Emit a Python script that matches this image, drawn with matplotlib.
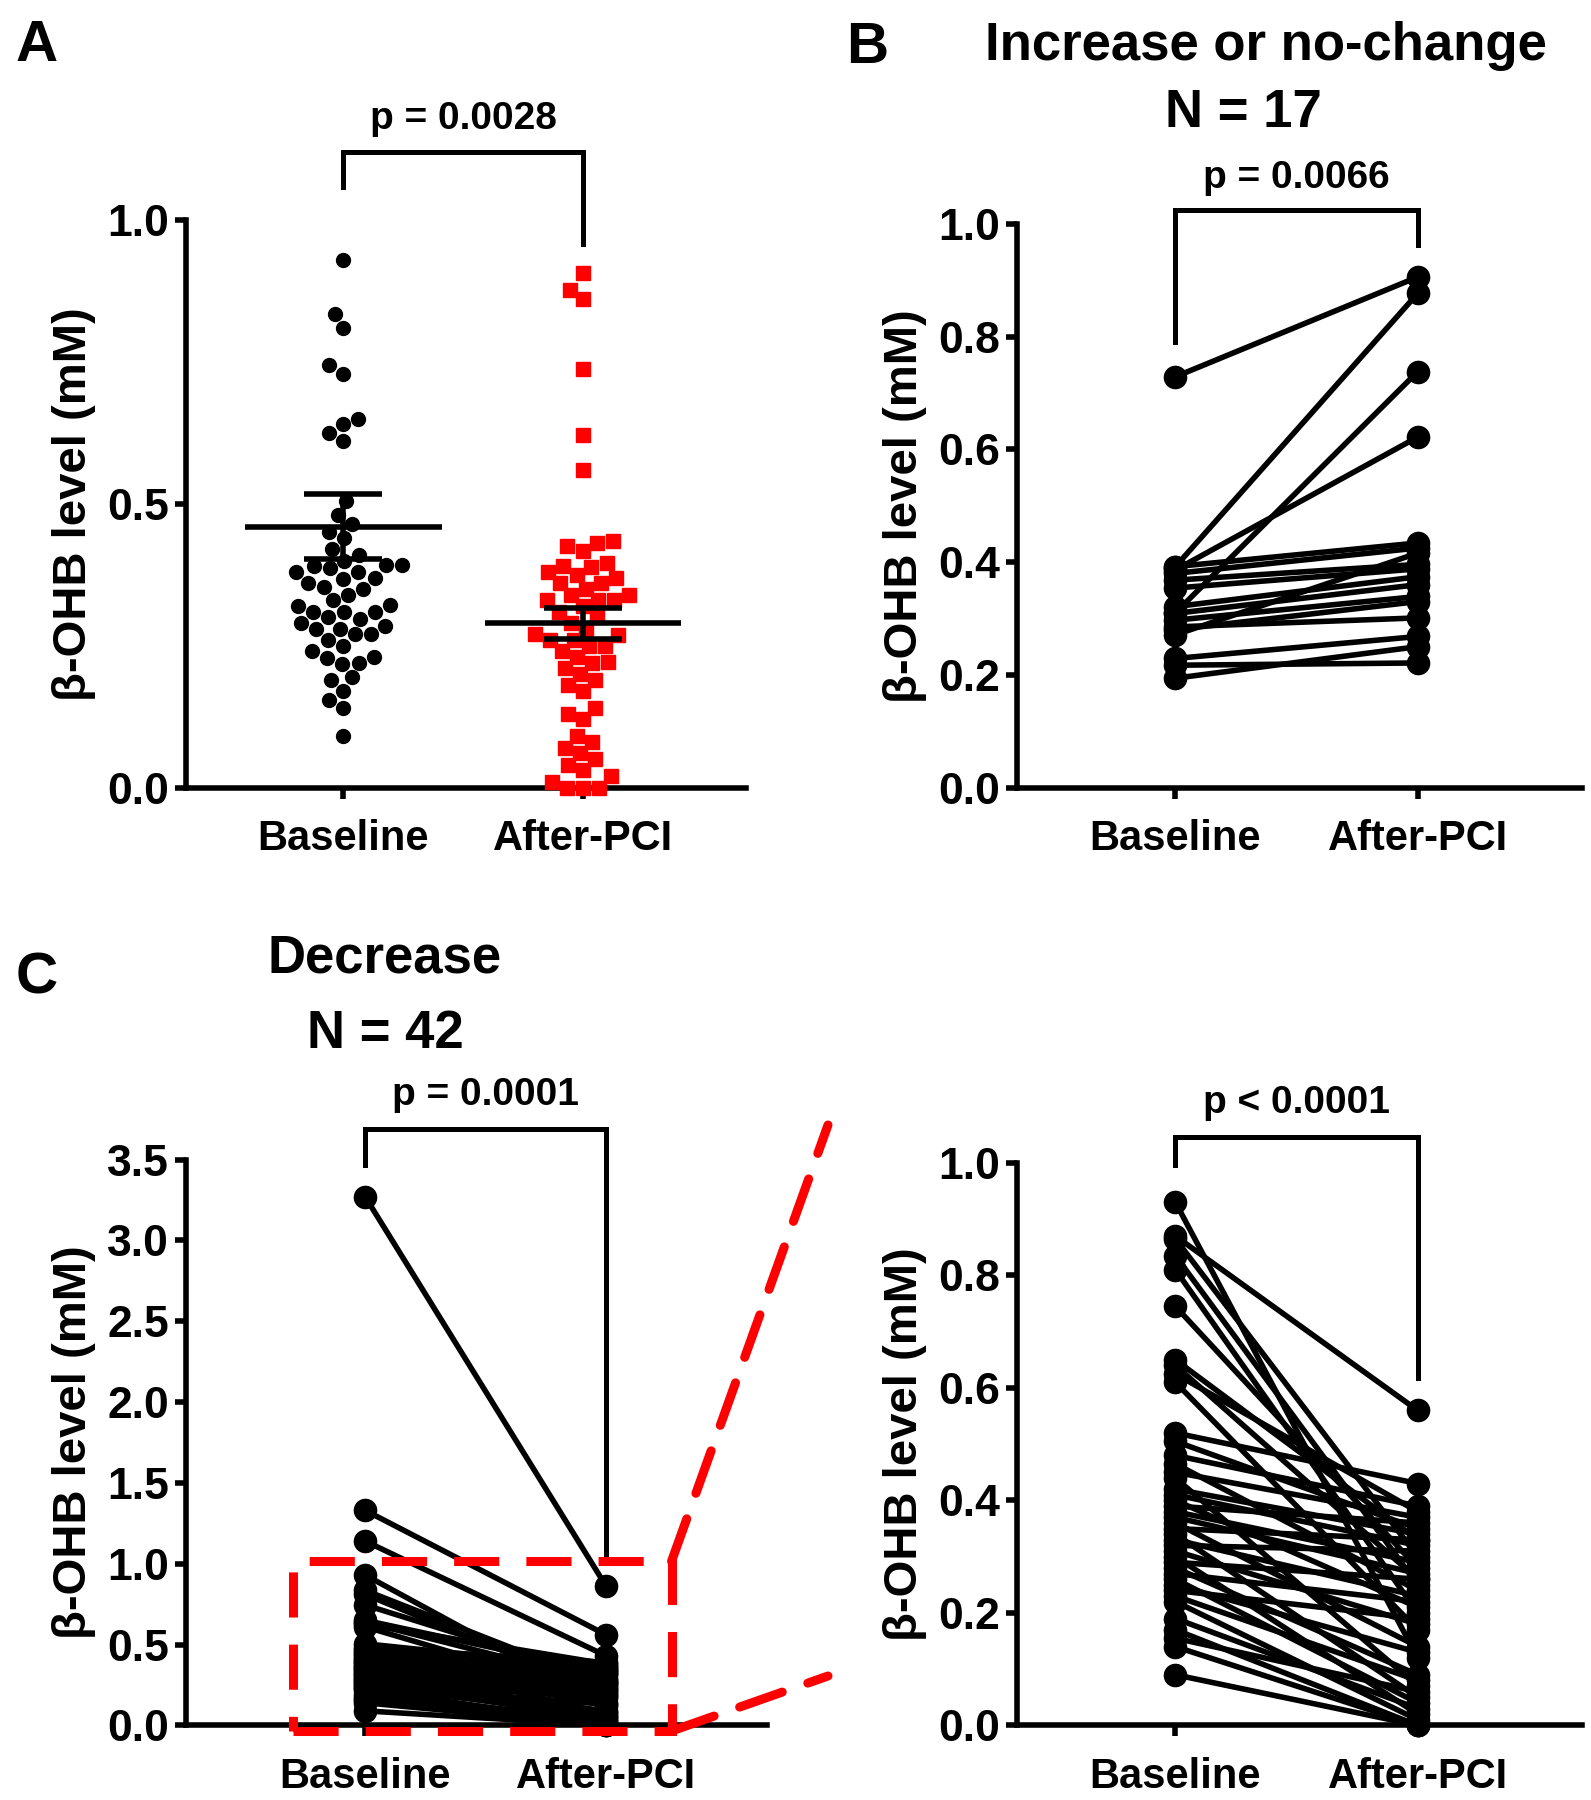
import numpy as np
import matplotlib
matplotlib.use("Agg")
import matplotlib.pyplot as plt
from matplotlib.patches import Rectangle, ConnectionPatch

plt.rcParams['font.family'] = ['Liberation Sans', 'DejaVu Sans']
plt.rcParams['font.weight'] = 'bold'

groups = ["Baseline", "After-PCI"]

# Increase or no-change group (N = 17), paired values in mM
inc_baseline = [0.729, 0.392, 0.310, 0.386, 0.392, 0.380, 0.368, 0.354, 0.321,
                0.309, 0.297, 0.285, 0.271, 0.229, 0.217, 0.194, 0.280]
inc_after = [0.906, 0.877, 0.738, 0.622, 0.434, 0.425, 0.396, 0.388, 0.374,
             0.360, 0.339, 0.301, 0.416, 0.268, 0.221, 0.250, 0.330]

# Decrease group (N = 42), paired values in mM
dec_baseline = [3.27, 1.33, 1.14, 0.93, 0.835, 0.81, 0.745, 0.65, 0.64, 0.625,
                0.61, 0.505, 0.48, 0.465, 0.45, 0.44, 0.42, 0.41, 0.40, 0.39,
                0.38, 0.37, 0.36, 0.35, 0.34, 0.33, 0.32, 0.31, 0.30, 0.29,
                0.28, 0.27, 0.26, 0.25, 0.24, 0.23, 0.22, 0.19, 0.17, 0.155,
                0.14, 0.09]
dec_after = [0.86, 0.56, 0.43, 0.12, 0.25, 0.20, 0.28, 0.33, 0.26, 0.38,
             0.17, 0.35, 0.39, 0.24, 0.37, 0.07, 0.34, 0.32, 0.21, 0.36,
             0.29, 0.27, 0.14, 0.33, 0.05, 0.23, 0.31, 0.18, 0.02, 0.26,
             0.09, 0.22, 0.04, 0.13, 0.19, 0.08, 0.01, 0.03, 0.0, 0.06,
             0.0, 0.0]

# Decrease group, zoomed 0-1 mM view
zoom_baseline = [0.93, 0.87, 0.865, 0.835, 0.81, 0.745, 0.65, 0.64, 0.625, 0.61,
                 0.52, 0.505, 0.48, 0.465, 0.45, 0.44, 0.42, 0.41, 0.40, 0.39,
                 0.38, 0.37, 0.36, 0.35, 0.34, 0.33, 0.32, 0.31, 0.30, 0.29,
                 0.28, 0.27, 0.26, 0.25, 0.24, 0.23, 0.22, 0.19, 0.17, 0.155,
                 0.14, 0.09]
zoom_after = [0.12, 0.56, 0.30, 0.25, 0.20, 0.28, 0.33, 0.26, 0.38, 0.17,
              0.43, 0.35, 0.39, 0.24, 0.37, 0.07, 0.34, 0.32, 0.21, 0.36,
              0.29, 0.27, 0.14, 0.33, 0.05, 0.23, 0.31, 0.18, 0.02, 0.26,
              0.09, 0.22, 0.04, 0.13, 0.19, 0.08, 0.01, 0.03, 0.0, 0.06,
              0.0, 0.0]

# Panel A pools both groups
all_baseline = inc_baseline + dec_baseline
all_after = inc_after + dec_after

W, H = 1591, 1800
fig = plt.figure(figsize=(W / 100, H / 100), dpi=100)

LW = 4.0
PAIR_LW = 4.0
PAIR_MS = 16
XTICK_FS = 30
YTICK_FS = 32
LABEL_FS = 34
P_FS = 28
TITLE_FS = 38


def px_rect(left, top, right, bottom):
    return [left / W, 1 - bottom / H, (right - left) / W, (bottom - top) / H]


def style_axes(ax, xlim, ylim, yticks, fmt="%.1f"):
    ax.set_xlim(*xlim)
    ax.set_ylim(*ylim)
    for s in ("top", "right"):
        ax.spines[s].set_visible(False)
    for s in ("left", "bottom"):
        ax.spines[s].set_linewidth(LW)
    ax.set_xticks([0, 1])
    ax.set_xticklabels(groups)
    ax.set_yticks(yticks)
    ax.set_yticklabels([fmt % t for t in yticks])
    ax.tick_params(axis="both", length=8, width=LW)
    ax.tick_params(axis="x", pad=15, labelsize=XTICK_FS)
    ax.tick_params(axis="y", pad=4, labelsize=YTICK_FS)
    ax.set_ylabel("β-OHB level (mM)", fontsize=LABEL_FS, fontweight="bold", labelpad=8)


def bracket(ax, y_top, y_left, y_right, text, text_y):
    ax.plot([0, 0, 1, 1], [y_left, y_top, y_top, y_right], color="black",
            lw=3.6, clip_on=False, solid_joinstyle="miter")
    ax.text(0.5, text_y, text, ha="center", va="center", fontsize=P_FS,
            fontweight="bold", clip_on=False)


def swarm(values, x0, xscale, yscale, d):
    # place points bottom-up, nudging sideways until they no longer overlap
    values = np.asarray(values)
    xs = np.zeros(len(values))
    placed = []
    for i in np.argsort(values):
        y = values[i] * yscale
        off = None
        for step in range(0, 400):
            for sgn in ((1,) if step == 0 else (-1, 1)):
                x = sgn * step
                if all((x - px) ** 2 + (y - py) ** 2 >= d * d for px, py in placed):
                    off = x
                    break
            if off is not None:
                break
        placed.append((off, y))
        xs[i] = x0 + off / xscale
    return xs


# ---------------- Panel A: pooled scatter with mean +/- SEM ----------------
axA = fig.add_axes(px_rect(186, 220, 746, 787.5))
xlimA = (-0.655, 1.679)
style_axes(axA, xlimA, (0, 1.0), [0.0, 0.5, 1.0])

xscale = (746 - 186) / (xlimA[1] - xlimA[0])
yscale = 787.5 - 220
for xpos, vals, marker, color, ms in ((0, all_baseline, "o", "black", 10),
                                       (1, all_after, "s", "red", 9.5)):
    v = np.array(vals)
    vis = v[v <= 1.0]
    xs = swarm(vis, xpos, xscale, yscale, 16)
    axA.plot(xs, vis, linestyle="", marker=marker, color=color, ms=ms,
             mec=color, clip_on=False, zorder=3)
    m = v.mean()
    sem = v.std(ddof=1) / np.sqrt(len(v))
    axA.hlines(m, xpos - 0.41, xpos + 0.41, color="black", lw=LW, zorder=4)
    axA.vlines(xpos, m - sem, m + sem, color="black", lw=LW, zorder=4)
    axA.hlines([m - sem, m + sem], xpos - 0.163, xpos + 0.163, color="black", lw=LW, zorder=4)

bracket(axA, 1.119, 1.059, 0.957, "p = 0.0028", 1.178)

# ---------------- Panel B: increase or no-change ----------------
axB = fig.add_axes(px_rect(1017, 224, 1582, 787.5))
style_axes(axB, (-0.654, 1.678), (0, 1.0), [0, 0.2, 0.4, 0.6, 0.8, 1.0])
for b, a in zip(inc_baseline, inc_after):
    axB.plot([0, 1], [b, a], color="black", lw=PAIR_LW, marker="o", ms=PAIR_MS,
             clip_on=False, zorder=3)
bracket(axB, 1.025, 0.79, 0.963, "p = 0.0066", 1.081)

# ---------------- Panel C: decrease, full range ----------------
axC = fig.add_axes(px_rect(186, 1159.5, 767, 1725.4))
style_axes(axC, (-0.743, 1.667), (0, 3.5), [0, 0.5, 1.0, 1.5, 2.0, 2.5, 3.0, 3.5])
for b, a in zip(dec_baseline, dec_after):
    axC.plot([0, 1], [b, a], color="black", lw=PAIR_LW, marker="o", ms=PAIR_MS,
             clip_on=False, zorder=3)
bracket(axC, 3.69, 3.465, 1.05, "p = 0.0001", 3.90)

# red dashed box marking the zoomed range
box_x0, box_x1 = -0.30, 1.271
box_y0, box_y1 = -0.035, 1.015
axC.add_patch(Rectangle((box_x0, box_y0), box_x1 - box_x0, box_y1 - box_y0,
                        fill=False, edgecolor="red", lw=6.5, linestyle=(0, (5, 3)),
                        clip_on=False, zorder=5))
for ycorner, fy in ((box_y1, 1125), (box_y0, 1676)):
    con = ConnectionPatch(xyA=(box_x1, ycorner), coordsA=axC.transData,
                          xyB=(828 / W, 1 - fy / H), coordsB=fig.transFigure,
                          color="red", lw=6.5, linestyle=(0, (5, 3)), zorder=5)
    fig.add_artist(con)

# ---------------- Panel D: decrease, zoomed 0-1 mM ----------------
axD = fig.add_axes(px_rect(1017, 1163, 1582, 1725.4))
style_axes(axD, (-0.654, 1.678), (0, 1.0), [0, 0.2, 0.4, 0.6, 0.8, 1.0])
for b, a in zip(zoom_baseline, zoom_after):
    axD.plot([0, 1], [b, a], color="black", lw=PAIR_LW, marker="o", ms=PAIR_MS,
             clip_on=False, zorder=3)
bracket(axD, 1.047, 0.996, 0.618, "p < 0.0001", 1.106)

# ---------------- Panel letters and titles ----------------
fig.text(37 / W, 1 - 46 / H, "A", fontsize=42, fontweight="bold", ha="center", va="center")
fig.text(867 / W, 1 - 48 / H, "B", fontsize=42, fontweight="bold", ha="center", va="center")
fig.text(37 / W, 1 - 978 / H, "C", fontsize=42, fontweight="bold", ha="center", va="center")
fig.text(1266 / W, 1 - 46 / H, "Increase or no-change", fontsize=TITLE_FS, fontweight="bold",
         ha="center", va="center")
fig.text(1243 / W, 1 - 113 / H, "N = 17", fontsize=TITLE_FS, fontweight="bold", ha="center", va="center")
fig.text(385 / W, 1 - 958 / H, "Decrease", fontsize=TITLE_FS, fontweight="bold", ha="center", va="center")
fig.text(385 / W, 1 - 1034 / H, "N = 42", fontsize=TITLE_FS, fontweight="bold", ha="center", va="center")

fig.savefig("out.png", dpi=100)
